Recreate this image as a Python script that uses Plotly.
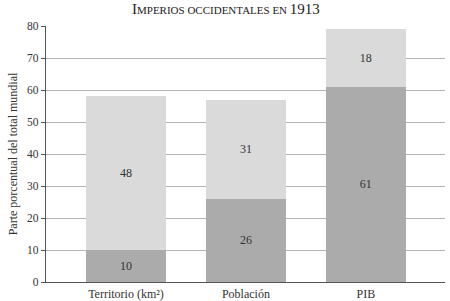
import plotly.graph_objects as go

categories = ["Territorio (km²)", "Población", "PIB"]
base_share = [10, 26, 61]
extra_share = [48, 31, 18]
y_ticks = [0, 10, 20, 30, 40, 50, 60, 70, 80]

FONT = "Liberation Serif"
TEXT = "#333333"

fig = go.Figure()
fig.add_trace(go.Bar(
    x=categories, y=base_share, marker_color="#ababab", width=0.667,
    text=[str(v) for v in base_share], textposition="inside",
    insidetextanchor="middle", textfont=dict(family=FONT, size=12, color=TEXT),
    marker_line_width=0, showlegend=False,
))
fig.add_trace(go.Bar(
    x=categories, y=extra_share, marker_color="#dadada", width=0.667,
    text=[str(v) for v in extra_share], textposition="inside",
    insidetextanchor="middle", textfont=dict(family=FONT, size=12, color=TEXT),
    marker_line_width=0, showlegend=False,
))

title = ("<span style='font-size:15px'>I</span>MPERIOS OCCIDENTALES EN "
         "<span style='font-size:15px'>1913</span>")

fig.update_layout(
    barmode="stack",
    width=450, height=301,
    margin=dict(l=46, r=5, t=26, b=19, autoexpand=False),
    paper_bgcolor="white", plot_bgcolor="white",
    font=dict(family=FONT, size=12, color=TEXT),
    title=dict(text=title, x=0.502, xanchor="center", y=0.965, yanchor="middle",
               font=dict(family=FONT, size=11, color="#222222")),
    xaxis=dict(
        range=[-0.667, 2.66], showgrid=False, showline=True, linecolor="#555555",
        linewidth=1.2, ticks="", automargin=False,
        tickfont=dict(family=FONT, size=12, color=TEXT),
    ),
    yaxis=dict(
        range=[0, 80], tickvals=y_ticks, showgrid=True, gridcolor="#b5b5b5",
        gridwidth=1, showline=True, linecolor="#555555", linewidth=1.2,
        ticks="outside", ticklen=4, tickcolor="#555555", zeroline=False,
        automargin=False,
        tickfont=dict(family=FONT, size=11.5, color=TEXT),
        title=dict(text="Parte porcentual del total mundial", standoff=6,
                   font=dict(family=FONT, size=12, color=TEXT)),
    ),
)

fig.write_html("out.html")
